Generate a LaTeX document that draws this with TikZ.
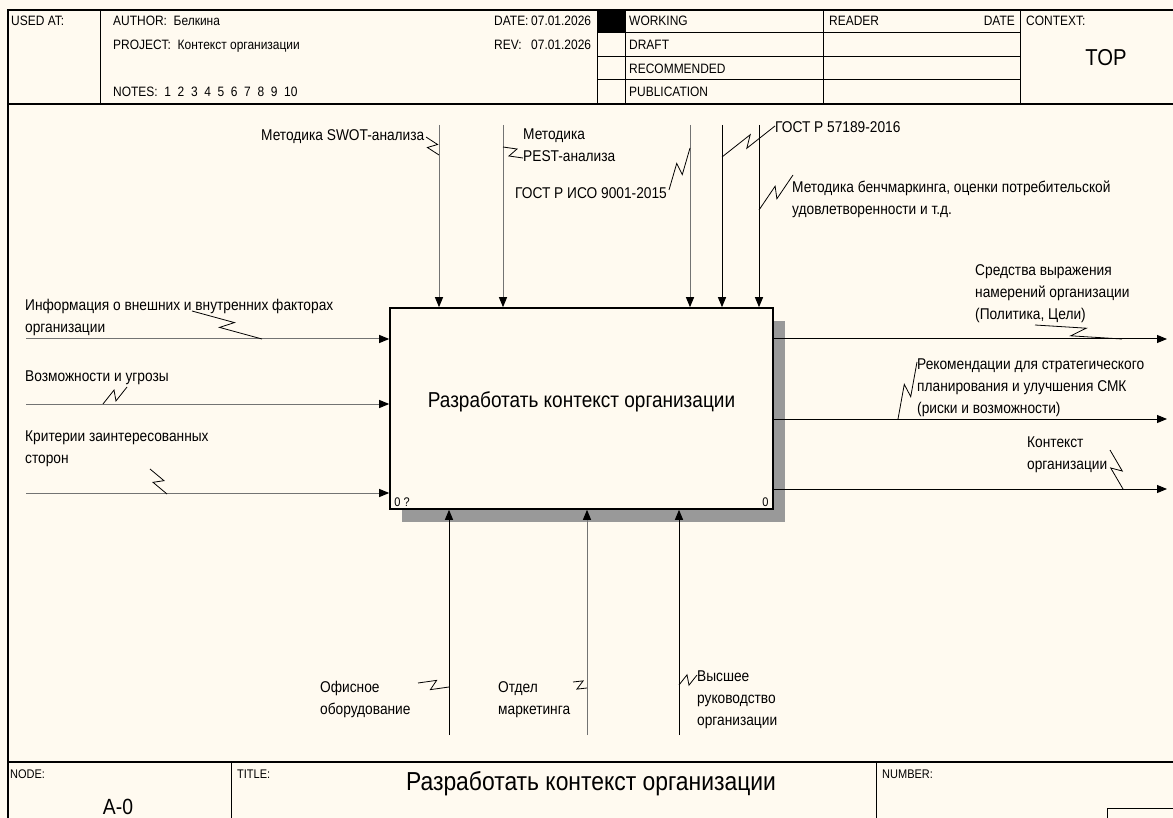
\documentclass[tikz,border=0pt]{standalone}
\usepackage{fontspec}
\setmainfont{Liberation Sans}[FakeStretch=0.88]
\usetikzlibrary{arrows.meta,calc,shadows}
\definecolor{paper}{RGB}{255,250,240}

\begin{document}
\begin{tikzpicture}[
  x=1pt,y=-1pt,
  frameline/.style={line width=1.6pt},
  gridline/.style={line width=1pt},
  headtxt/.style={font=\fontsize{13.6}{16}\selectfont,inner sep=0pt,anchor=base west},
  foottxt/.style={headtxt,font=\fontsize{12.5}{15}\selectfont},
  tag/.style={font=\fontsize{15.6}{22}\selectfont,inner sep=0pt,anchor=north west,align=left},
  flow/.style={line width=1pt,-{Triangle[length=10pt,width=8pt,color=black]}},
  dimflow/.style={flow,draw=black!55},
  leader/.style={line width=0.8pt},
  activity/.style={draw,line width=1.6pt,fill=paper,minimum width=383pt,minimum height=201pt,inner sep=0pt,
    drop shadow={shadow xshift=12pt,shadow yshift=-13pt,fill=black!40,opacity=1}}
]
  \fill[paper] (0,0) rectangle (1173,818);
  \useasboundingbox (0,0) rectangle (1173,818);
  \clip (0,0) rectangle (1173,818);

  % frame, header and footer
  \draw[frameline] (1190,10) -- (8,10) -- (8,830);
  \draw[frameline] (8,104) -- (1190,104);
  \draw[frameline] (8,762) -- (1190,762);
  \foreach \x in {100,597,625,823,1020}
    \draw[gridline] (\x,10) -- (\x,104);
  \foreach \y in {33,57,80}
    \draw[gridline] (597,\y) -- (1020,\y);
  \fill (597,10) rectangle (625,33);
  \foreach \x in {231,876}
    \draw[gridline] (\x,762) -- (\x,830);
  \draw[gridline] (1107,808) rectangle (1190,830);

  \node[headtxt] (usedat) at (11,26) {USED AT:};
  \node[headtxt] (author) at (113,26) {AUTHOR:\ \ Белкина};
  \node[headtxt] (project) at (113,50) {PROJECT:\ \ Контекст организации};
  \node[headtxt] (notes) at (113,97) {NOTES:\ \ 1\ \ 2\ \ 3\ \ 4\ \ 5\ \ 6\ \ 7\ \ 8\ \ 9\ \ 10};
  \node[headtxt] (date) at (494,26) {\makebox[37pt][l]{DATE:}07.01.2026};
  \node[headtxt] (rev) at (494,50) {\makebox[37pt][l]{REV:}07.01.2026};
  \node[headtxt] (working) at (629,26) {WORKING};
  \node[headtxt] (draft) at (629,50) {DRAFT};
  \node[headtxt] (recommended) at (629,74) {RECOMMENDED};
  \node[headtxt] (publication) at (629,97) {PUBLICATION};
  \node[headtxt] (reader) at (829,26) {READER};
  \node[headtxt,anchor=base east] (readerdate) at (1015,26) {DATE};
  \node[headtxt] (context) at (1026,26) {CONTEXT:};
  \node[font=\fontsize{23}{27}\selectfont,inner sep=0pt,anchor=base] (top) at (1106,66) {TOP};

  \node[foottxt] (nodecap) at (10,778) {NODE:};
  \node[foottxt] (titlecap) at (237,778) {TITLE:};
  \node[foottxt] (numbercap) at (882,778) {NUMBER:};
  \node[font=\fontsize{26}{30}\selectfont,inner sep=0pt,anchor=base] (title) at (591,790) {Разработать контекст организации};
  \node[font=\fontsize{22}{26}\selectfont,inner sep=0pt,anchor=base] (nodeid) at (118,814) {A-0};

  % activity
  \node[activity] (box) at (581.5,408.5) {};
  \node[font=\fontsize{21.6}{26}\selectfont] (boxtext) at ([yshift=7pt]box.center) {Разработать контекст организации};
  \node[foottxt,anchor=south west] (boxnum) at ([xshift=5pt,yshift=3pt]box.south west) {0 ?};
  \node[foottxt,anchor=south east] (boxcost) at ([xshift=-5pt,yshift=3pt]box.south east) {0};

  % controls
  \coordinate (swotin) at (439,125);
  \coordinate (pestin) at (503,125);
  \coordinate (isoin) at (690,125);
  \coordinate (gostin) at (722,125);
  \coordinate (benchin) at (759,125);
  \draw[dimflow] (swotin) -- (swotin |- box.north);
  \draw[dimflow] (pestin) -- (pestin |- box.north);
  \draw[dimflow] (isoin) -- (isoin |- box.north);
  \draw[flow] (gostin) -- (gostin |- box.north);
  \draw[flow] (benchin) -- (benchin |- box.north);

  % inputs
  \coordinate (infoin) at (26,339);
  \coordinate (riskin) at (26,404);
  \coordinate (critin) at (26,493);
  \draw[dimflow] (infoin) -- (infoin -| box.west);
  \draw[dimflow] (riskin) -- (riskin -| box.west);
  \draw[dimflow] (critin) -- (critin -| box.west);

  % outputs
  \coordinate (meansout) at (1167,339);
  \coordinate (recomout) at (1167,419);
  \coordinate (ctxout) at (1167,489);
  \draw[flow] (meansout -| box.east) -- (meansout);
  \draw[flow] (recomout -| box.east) -- (recomout);
  \draw[flow] (ctxout -| box.east) -- (ctxout);

  % mechanisms
  \coordinate (officein) at (449,735);
  \coordinate (mktin) at (587,735);
  \coordinate (mgmtin) at (679,735);
  \draw[flow] (officein) -- (officein |- box.south);
  \draw[dimflow] (mktin) -- (mktin |- box.south);
  \draw[flow] (mgmtin) -- (mgmtin |- box.south);

  % labels
  \node[tag] (swot) at (261,129) {Методика SWOT-анализа};
  \node[tag] (pest) at (523,129) {Методика\\PEST-анализа};
  \node[tag] (iso) at (515,187) {ГОСТ Р ИСО 9001-2015};
  \node[tag] (gost) at (775,121) {ГОСТ Р 57189-2016};
  \node[tag] (bench) at (792,181) {Методика бенчмаркинга, оценки потребительской\\удовлетворенности и т.д.};
  \node[tag] (info) at (25,299) {Информация о внешних и внутренних факторах\\организации};
  \node[tag] (risk) at (25,371) {Возможности и угрозы};
  \node[tag] (crit) at (25,431) {Критерии заинтересованных\\сторон};
  \node[tag] (means) at (975,264) {Средства выражения\\намерений организации\\(Политика, Цели)};
  \node[tag] (recom) at (917,359) {Рекомендации для стратегического\\планирования и улучшения СМК\\(риски и возможности)};
  \node[tag] (ctx) at (1027,437) {Контекст\\организации};
  \node[tag] (office) at (320,681) {Офисное\\оборудование};
  \node[tag] (mkt) at (498,681) {Отдел\\маркетинга};
  \node[tag] (mgmt) at (697,671) {Высшее\\руководство\\организации};

  % squiggles from labels to arrows
  \foreach \xa/\ya/\xb/\yb in {426/137/439/155, 523/158/503/147, 669/190/690/148,
      775/126/722/157, 793/175/759/210, 192/311/262/339, 127/387/103/404,
      150/469/167/494, 1035/325/1122/339, 917/362/898/419, 1110/450/1123/489,
      418/683/449/687, 573/682/587/688, 697/675/679/685}
    \draw[leader] (\xa,\ya) -- ($(\xa,\ya)!.58!(\xb,\yb)!5pt!90:(\xb,\yb)$)
      -- ($(\xa,\ya)!.42!(\xb,\yb)!5pt!-90:(\xb,\yb)$) -- (\xb,\yb);
\end{tikzpicture}
\end{document}
